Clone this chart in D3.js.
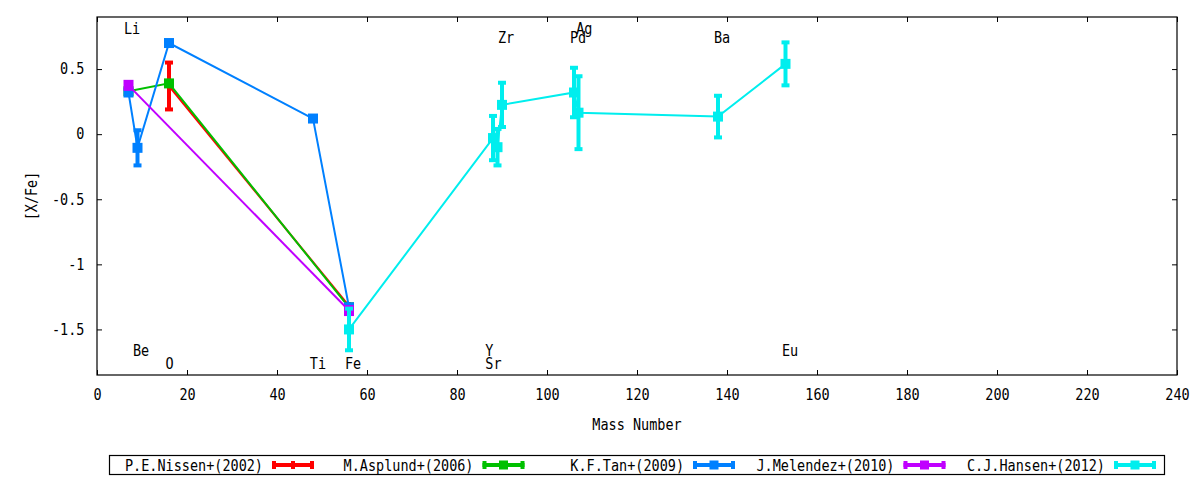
<!DOCTYPE html>
<html>
<head>
<meta charset="utf-8">
<script src="https://cdn.jsdelivr.net/npm/d3@7"></script>
<style>
    body { margin: 0; background: #fff; }
    svg text { font-family: "DejaVu Sans Mono", monospace; font-size: 15px; fill: #000; }
</style>
</head>
<body>
<div id="chart"></div>
<script>
// ---- data ----
var seriesNames = ["P.E.Nissen+(2002)", "M.Asplund+(2006)", "K.F.Tan+(2009)", "J.Melendez+(2010)", "C.J.Hansen+(2012)"];

var nissenMass = [16, 56];
var nissenVal  = [0.37, -1.32];
var nissenErr  = [0.18, 0];

var asplundMass = [7, 16, 56];
var asplundVal  = [0.33, 0.39, -1.33];
var asplundErr  = [0, 0, 0];

var tanMass = [7, 9, 16, 48, 56];
var tanVal  = [0.32, -0.105, 0.70, 0.12, -1.33];
var tanErr  = [0, 0.135, 0, 0, 0];

var melendezMass = [7, 56];
var melendezVal  = [0.375, -1.355];
var melendezErr  = [0, 0];

var hansenMass = [56, 88, 89, 90, 106, 107, 138, 153];
var hansenVal  = [-1.50, -0.03, -0.10, 0.225, 0.32, 0.165, 0.135, 0.54];
var hansenErr  = [0.16, 0.17, 0.14, 0.17, 0.19, 0.28, 0.16, 0.165];

// element labels (gnuplot "set label" positions, left justified)
var elemNames = ["Li", "Be", "O", "Ti", "Fe", "Sr", "Y", "Zr", "Pd", "Ag", "Ba", "Eu"];
var elemX     = [6.0, 8.0, 15.2, 47.3, 55.1, 86.3, 86.3, 89.1, 105.1, 106.5, 137.1, 152.2];
var elemY     = [0.815, -1.66, -1.76, -1.76, -1.76, -1.76, -1.66, 0.74, 0.74, 0.815, 0.74, -1.66];

var xTicks = [0, 20, 40, 60, 80, 100, 120, 140, 160, 180, 200, 220, 240];
var yTicks = [0.5, 0, -0.5, -1, -1.5];

// ---- layout ----
var margin = { top: 17, left: 97 };
var width = 1080, height = 358;

var svg = d3.select('#chart')
    .append('svg')
    .attr('width', 1200)
    .attr('height', 480);

var g = svg.append('g')
    .attr('transform', 'translate(' + margin.left + ',' + margin.top + ')');

var x = d3.scaleLinear().domain([0, 240]).range([0, width]);
var y = d3.scaleLinear().domain([-1.85, 0.9]).range([height, 0]);

// gnuplot's font is a narrow mono, squeeze DejaVu a bit
function narrowText(parent, px, py, str, anchor) {
    return parent.append('text')
        .attr('transform', 'translate(' + px + ',' + py + ') scale(0.9,1)')
        .attr('text-anchor', anchor || 'start')
        .text(str);
}

// ---- axes (ticks point inward, mirrored) ----
var xAxis = d3.axisBottom(x).tickValues(xTicks).tickSize(-5).tickPadding(14).tickFormat(d3.format('d'));
var yAxis = d3.axisLeft(y).tickValues(yTicks).tickSize(-5).tickPadding(14).tickFormat(function(d) { return String(d); });

g.append('g')
    .attr('class', 'x-axis axis')
    .attr('transform', 'translate(0,' + height + ')')
    .call(xAxis);

g.append('g')
    .attr('class', 'y-axis axis')
    .call(yAxis);

g.append('g')
    .attr('class', 'axis')
    .call(d3.axisTop(x).tickValues(xTicks).tickSize(-5).tickFormat(''));

g.append('g')
    .attr('class', 'axis')
    .attr('transform', 'translate(' + width + ',0)')
    .call(d3.axisRight(y).tickValues(yTicks).tickSize(-5).tickFormat(''));

g.selectAll('.axis .domain').remove();
g.selectAll('.axis line').attr('stroke', '#000').attr('stroke-width', 1);
g.selectAll('.axis text').attr('transform', 'scale(0.9,1)');

g.append('rect')
    .attr('x', 0)
    .attr('y', 0)
    .attr('width', width)
    .attr('height', height)
    .attr('fill', 'none')
    .attr('stroke', '#000')
    .attr('stroke-width', 1.2);

// axis labels
narrowText(svg, 637, 430, 'Mass Number', 'middle');
svg.append('text')
    .attr('transform', 'translate(37,196) rotate(-90) scale(0.9,1)')
    .attr('text-anchor', 'middle')
    .text('[X/Fe]');

// ---- series ----
var series = [
    { name: seriesNames[0], mass: nissenMass,   val: nissenVal,   err: nissenErr,   color: '#ff0000', mw: 4,  mh: 8 },
    { name: seriesNames[1], mass: asplundMass,  val: asplundVal,  err: asplundErr,  color: '#00c000', mw: 10, mh: 10 },
    { name: seriesNames[2], mass: tanMass,      val: tanVal,      err: tanErr,      color: '#0080ff', mw: 10, mh: 10 },
    { name: seriesNames[3], mass: melendezMass, val: melendezVal, err: melendezErr, color: '#c000ff', mw: 10, mh: 11 },
    { name: seriesNames[4], mass: hansenMass,   val: hansenVal,   err: hansenErr,   color: '#00eeee', mw: 10, mh: 10 }
];

var line = d3.line()
    .x(function(d) { return x(d.m); })
    .y(function(d) { return y(d.v); });

series.forEach(function(s) {
    var pts = s.mass.map(function(m, i) {
        return { m: m, v: s.val[i], e: s.err[i] };
    });

    g.append('path')
        .datum(pts)
        .attr('d', line)
        .attr('fill', 'none')
        .attr('stroke', s.color)
        .attr('stroke-width', 2);

    // error bars
    var eb = g.selectAll(null)
        .data(pts.filter(function(d) { return d.e > 0; }))
        .enter()
        .append('g')
        .attr('stroke', s.color)
        .attr('stroke-width', 4);

    eb.append('line')
        .attr('x1', function(d) { return x(d.m); })
        .attr('x2', function(d) { return x(d.m); })
        .attr('y1', function(d) { return y(d.v + d.e); })
        .attr('y2', function(d) { return y(d.v - d.e); });

    [1, -1].forEach(function(sign) {
        eb.append('line')
            .attr('x1', function(d) { return x(d.m) - 4; })
            .attr('x2', function(d) { return x(d.m) + 4; })
            .attr('y1', function(d) { return y(d.v + sign * d.e); })
            .attr('y2', function(d) { return y(d.v + sign * d.e); });
    });

    // markers
    g.selectAll(null)
        .data(pts)
        .enter()
        .append('rect')
        .attr('x', function(d) { return x(d.m) - s.mw / 2; })
        .attr('y', function(d) { return y(d.v) - s.mh / 2; })
        .attr('width', s.mw)
        .attr('height', s.mh)
        .attr('fill', s.color);
});

// element labels
elemNames.forEach(function(name, i) {
    narrowText(g, x(elemX[i]), y(elemY[i]) + 5.5, name, 'start');
});

// ---- key ----
var key = svg.append('g');
key.append('rect')
    .attr('x', 109.5)
    .attr('y', 455.5)
    .attr('width', 1055)
    .attr('height', 19)
    .attr('fill', 'none')
    .attr('stroke', '#000')
    .attr('stroke-width', 1.2);

series.forEach(function(s, i) {
    var sx = 272 + i * 210.5, sy = 465;

    narrowText(key, sx - 9, sy + 5.5, s.name, 'end');

    key.append('line')
        .attr('x1', sx).attr('x2', sx + 42)
        .attr('y1', sy).attr('y2', sy)
        .attr('stroke', s.color)
        .attr('stroke-width', 4);

    [sx + 2, sx + 40].forEach(function(cx) {
        key.append('line')
            .attr('x1', cx).attr('x2', cx)
            .attr('y1', sy - 4).attr('y2', sy + 4)
            .attr('stroke', s.color)
            .attr('stroke-width', 4);
    });

    var mw = Math.min(s.mw, 9), mh = Math.min(s.mh, 9);
    if (i === 0) { mh = 8; }
    key.append('rect')
        .attr('x', sx + 21 - mw / 2)
        .attr('y', sy - mh / 2)
        .attr('width', mw)
        .attr('height', mh)
        .attr('fill', s.color);
});
</script>
</body>
</html>
